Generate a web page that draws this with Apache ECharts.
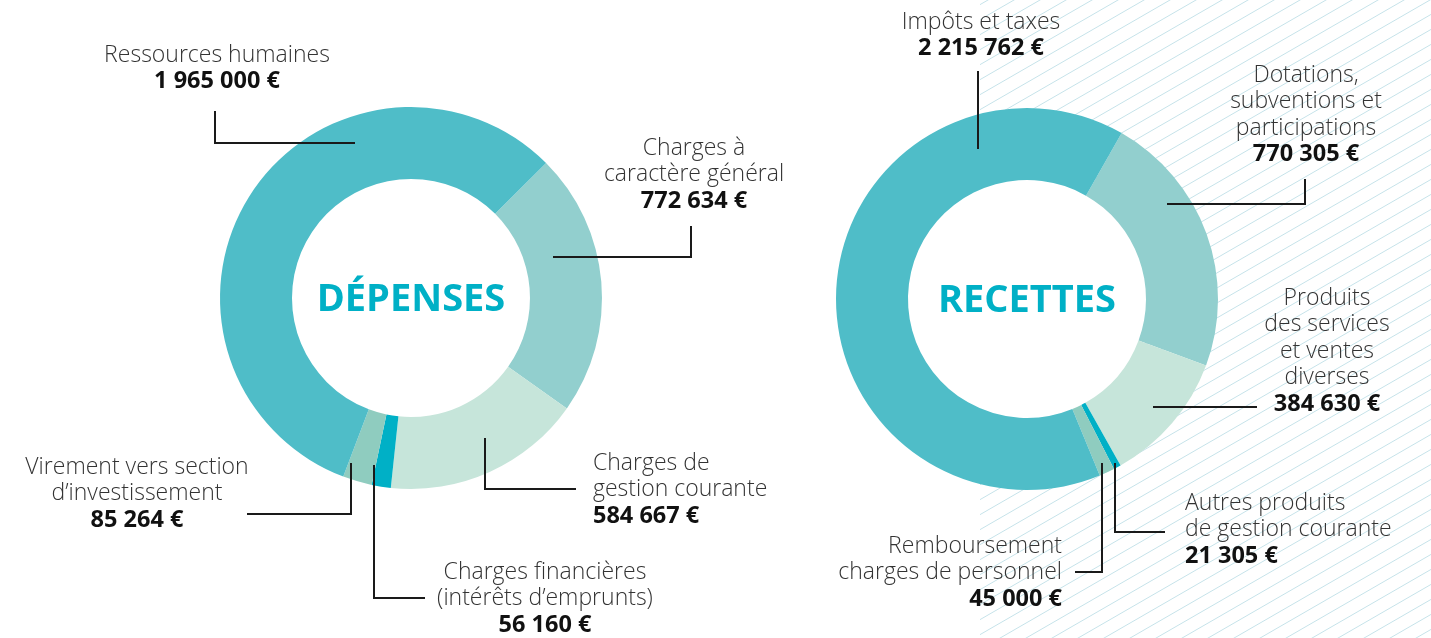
<!DOCTYPE html>
<html>
<head>
<meta charset="utf-8">
<script src="https://cdn.jsdelivr.net/npm/echarts@6/dist/echarts.min.js"></script>
<style>
html,body{margin:0;padding:0;background:#fff;}
#chart{width:1431px;height:638px;}
</style>
</head>
<body>
<div id="chart"></div>
<script>
// ---------- DATA ----------
const depensesNames = [
  "Charges à\ncaractère général",
  "Charges de\ngestion courante",
  "Charges financières\n(intérêts d’emprunts)",
  "Virement vers section\nd’investissement",
  "Ressources humaines"
];
const depensesValues = [772634, 584667, 56160, 85264, 1965000];

const recettesNames = [
  "Dotations,\nsubventions et\nparticipations",
  "Produits\ndes services\net ventes\ndiverses",
  "Autres produits\nde gestion courante",
  "Remboursement\ncharges de personnel",
  "Impôts et taxes"
];
const recettesValues = [770305, 384630, 21305, 45000, 2215762];

const titles = ["DÉPENSES", "RECETTES"];

// ---------- STYLE / LAYOUT ----------
const depensesColors = ["#92CFCE", "#C6E5DA", "#00B0C6", "#8FCCBF", "#4FBDC8"];
const recettesColors = ["#92CFCE", "#C6E5DA", "#00B0C6", "#8FCCBF", "#4FBDC8"];

const LH = 26.5;
// label anchor (x, centre of first line y), alignment, leader line points
const depensesLayout = [
  {x: 694, y: 148, align: "center", pts: [[553,257],[691,257],[691,226]]},
  {x: 593, y: 463, align: "left",   pts: [[485,438],[485,489],[576,489]]},
  {x: 545, y: 572, align: "center", pts: [[374,465],[374,598],[425,598]]},
  {x: 137, y: 467, align: "center", pts: [[351,463],[351,514],[247,514]]},
  {x: 217, y: 55,  align: "center", pts: [[355,143],[215,143],[215,111]]}
];
const recettesLayout = [
  {x: 1306, y: 75,  align: "center", pts: [[1167,204],[1305,204],[1305,179]]},
  {x: 1327, y: 298, align: "center", pts: [[1153,407],[1205,407],[1257,407]]},
  {x: 1185, y: 503, align: "left",   pts: [[1115,463],[1115,532],[1165,532]]},
  {x: 1062, y: 546, align: "right",  pts: [[1102,463],[1102,572],[1075,572]]},
  {x: 981,  y: 22,  align: "center", pts: [[978,149],[978,110],[978,71]]}
];

const FONT = '"Open Sans", "Noto Sans", sans-serif';

function fmtEuro(v) {
  return String(v).replace(/\B(?=(\d{3})+(?!\d))/g, " ") + " €";
}

const rich = {};
["left", "center", "right"].forEach(a => {
  rich["n_" + a] = {fontFamily: FONT, fontWeight: 300, fontSize: 23, color: "#333333", lineHeight: LH, align: a};
  rich["v_" + a] = {fontFamily: FONT, fontWeight: "bold", fontSize: 23.5, color: "#111111", lineHeight: LH, align: a};
});

function ringSeries(names, values, colors, center, startAngle) {
  return {
    type: "pie",
    center: center,
    radius: [119, 191],
    startAngle: startAngle,
    clockwise: true,
    silent: true,
    itemStyle: {borderWidth: 0},
    label: {show: false},
    labelLine: {show: false},
    data: names.map((n, i) => ({name: n, value: values[i], itemStyle: {color: colors[i]}})),
    z: 2
  };
}

// transparent overlay pie carrying the labels so that leader lines sit above the ring
function labelSeries(names, values, layout, center, startAngle) {
  return {
    type: "pie",
    center: center,
    radius: [119, 191],
    startAngle: startAngle,
    clockwise: true,
    avoidLabelOverlap: false,
    silent: true,
    itemStyle: {color: "rgba(0,0,0,0)", borderWidth: 0},
    data: names.map((n, i) => ({name: n, value: values[i]})),
    label: {
      show: true,
      position: "outside",
      formatter: function (p) {
        const a = layout[p.dataIndex].align;
        const lines = p.name.split("\n").map(s => "{n_" + a + "|" + s + "}");
        lines.push("{v_" + a + "|" + fmtEuro(p.value) + "}");
        return lines.join("\n");
      },
      rich: rich
    },
    labelLine: {show: true, lineStyle: {color: "#1a1a1a", width: 2}},
    labelLayout: function (params) {
      const l = layout[params.dataIndex];
      return {
        x: l.x,
        y: l.y - LH / 2,
        align: l.align,
        verticalAlign: "top",
        labelLinePoints: l.pts
      };
    },
    z: 5
  };
}

// start angles derived from the boundary positions in the reference
const depStart = 45, recStart = 60.3;

// hatch pattern tile
const tile = document.createElement("canvas");
tile.width = 26; tile.height = 15;
(function () {
  const c = tile.getContext("2d");
  c.strokeStyle = "#c6e3ea";
  c.lineWidth = 1;
  for (let k = -1; k <= 1; k++) {
    c.beginPath();
    c.moveTo(-13, 22.5 + 15 * k);
    c.lineTo(39, -7.5 + 15 * k);
    c.stroke();
  }
})();

const chart = echarts.init(document.getElementById("chart"), null, {renderer: "canvas"});
chart.setOption({
  backgroundColor: "#ffffff",
  animation: false,
  graphic: [
    {
      type: "rect", z: 0, silent: true,
      shape: {x: 980, y: 0, width: 451, height: 638},
      style: {fill: {type: "pattern", image: tile, repeat: "repeat"}}
    },
    {
      type: "circle", z: 1, silent: true,
      shape: {cx: 1027, cy: 299, r: 120},
      style: {fill: "#ffffff"}
    },
    {
      type: "text", z: 10, silent: true,
      x: 411, y: 300,
      style: {text: titles[0], fill: "#00B0C6", font: 'bold 38px ' + FONT, align: "center", verticalAlign: "middle"}
    },
    {
      type: "text", z: 10, silent: true,
      x: 1027, y: 301,
      style: {text: titles[1], fill: "#00B0C6", font: 'bold 38px ' + FONT, align: "center", verticalAlign: "middle"}
    }
  ],
  series: [
    ringSeries(depensesNames, depensesValues, depensesColors, [411, 298], depStart),
    ringSeries(recettesNames, recettesValues, recettesColors, [1027, 299], recStart),
    labelSeries(depensesNames, depensesValues, depensesLayout, [411, 298], depStart),
    labelSeries(recettesNames, recettesValues, recettesLayout, [1027, 299], recStart)
  ]
});
</script>
</body>
</html>
